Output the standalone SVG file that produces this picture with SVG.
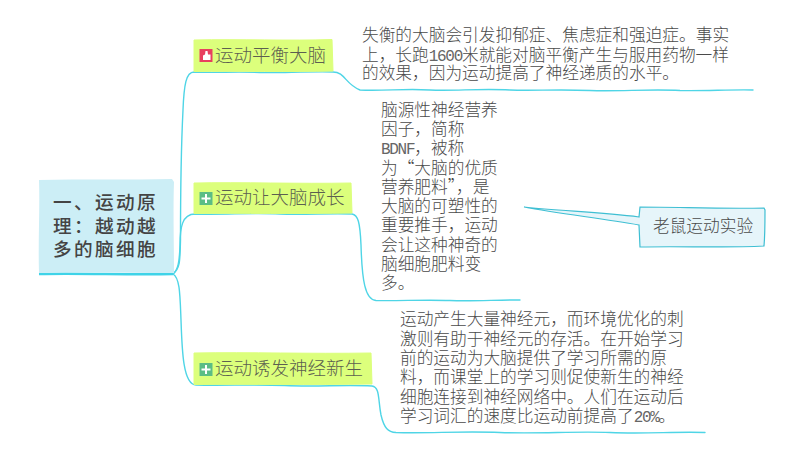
<svg xmlns="http://www.w3.org/2000/svg" width="800" height="453" viewBox="0 0 800 453">
<style>
text{font-family:"Noto Sans CJK SC","Noto Sans",sans-serif;fill:#4a4a4a}
.t{font-size:18.6px;font-weight:500;letter-spacing:2.4px;fill:#444}
.s{font-size:18.5px;font-weight:300;fill:#5c5f50}
.d{font-size:16.7px;font-weight:300}
.m{font-family:"Liberation Mono",monospace;font-size:16px;letter-spacing:-1.300px;fill:#666}
.c{fill:none;stroke:#4fd5e6;stroke-width:1.400;stroke-linecap:round}
.sub{fill:#dcff7c;stroke:#dcff7c;stroke-width:1}
.w{fill:#fff}
</style>
<rect width="800" height="453" fill="#fff"/>
<g id="connectors">
<path class="c" d="M173 274C180 268 180 262 180.500 240C180.500 190 181 150 183 110C184 85 186 72 194 72C215 73 235 71.500 260 72.500C280 73 305 71.500 333 72C345 72 345 84 360 90C385 91 405 88.500 430 90C455 91 480 88.500 510 90C535 91 555 89 590 90.500C620 91.500 650 89 680 90.500C705 91 730 89.500 753 90"/>
<path class="c" d="M173 274C178 270 179.500 262 180 245C180 228 182 214 195 214C225 215 250 212.500 280 214C305 215 330 213 352 214C358 215 360 222 361 245C362 280 365 300 376 300.500C400 301 425 299.500 450 300.500C475 301.500 500 299.500 520 300"/>
<path class="c" d="M173 274C180 278 180 295 181 320C182 350 183 385 196 385C225 386 250 384 285 385.500C315 387 345 384.500 372 386C380 387 378 400 381 415C384 428 388 432 396 432.500C430 433.500 460 431 500 432.500C540 434 575 431 610 432.500C645 434 675 431.500 705 432.500"/>
<path fill="none" stroke="#3fd3e8" stroke-width="2.500" d="M39 274C80 273 130 275 173 274"/>
</g>
<g id="topic">
<path fill="#cceef6" d="M39 180C80 179 130 180 172 179L174 182C173 210 174 245 174 273C130 273 80 272 39 273C38 240 40 210 39 180Z"/>
<text class="t" x="53" y="209">一、运动原</text>
<text class="t" x="53" y="233">理：越动越</text>
<text class="t" x="53" y="256">多的脑细胞</text>
</g>
<g id="sub1">
<path class="sub" d="M194 40C240 39 290 41 332 39.500L333 71C290 72 240 71 194 71.500Z"/>
<rect x="199.500" y="49" width="13" height="13" fill="#e8405f"/>
<path class="w" d="M203 55.500L205 54.500L205.500 51H207.500L208 54.500H210.500V60H203Z"/>
<text class="s" x="215" y="62">运动平衡大脑</text>
</g>
<g id="detail1">
<text class="d" x="362" y="41">失衡的大脑会引发抑郁症、焦虑症和强迫症。事实</text>
<text class="d" x="362" y="60.500">上，长跑<tspan class="m">1600</tspan>米就能对脑平衡产生与服用药物一样</text>
<text class="d" x="362" y="79">的效果，因为运动提高了神经递质的水平。</text>
</g>
<g id="sub2">
<path class="sub" d="M194 183C240 182 300 184 351 183L352 213C300 214 240 213 194 213.500Z"/>
<rect x="199.500" y="192" width="13" height="13" fill="#5bbd85"/>
<path class="w" d="M205 194H207V197.500H210.500V199.500H207V203H205V199.500H201.500V197.500H205Z"/>
<text class="s" x="215" y="204">运动让大脑成长</text>
</g>
<g id="detail2">
<text class="d" x="381" y="116">脑源性神经营养</text>
<text class="d" x="381" y="135">因子，简称</text>
<text class="d" x="381" y="154"><tspan class="m">BDNF</tspan>，被称</text>
<text class="d" x="381" y="174">为“大脑的优质</text>
<text class="d" x="381" y="193">营养肥料”，是</text>
<text class="d" x="381" y="212">大脑的可塑性的</text>
<text class="d" x="381" y="231">重要推手，运动</text>
<text class="d" x="381" y="251">会让这种神奇的</text>
<text class="d" x="381" y="270">脑细胞肥料变</text>
<text class="d" x="381" y="289">多。</text>
</g>
<g id="sub3">
<path class="sub" d="M194 353C250 352 310 354 371 353L372 384C310 385 250 384 194 384.500Z"/>
<rect x="199.500" y="363" width="13" height="13" fill="#5bbd85"/>
<path class="w" d="M205 365H207V368.500H210.500V370.500H207V374H205V370.500H201.500V368.500H205Z"/>
<text class="s" x="215" y="375">运动诱发神经新生</text>
</g>
<g id="detail3">
<text class="d" x="400" y="325">运动产生大量神经元，而环境优化的刺</text>
<text class="d" x="400" y="344.500">激则有助于神经元的存活。在开始学习</text>
<text class="d" x="400" y="364">前的运动为大脑提供了学习所需的原</text>
<text class="d" x="400" y="383">料，而课堂上的学习则促使新生的神经</text>
<text class="d" x="400" y="402.500">细胞连接到神经网络中。人们在运动后</text>
<text class="d" x="400" y="422">学习词汇的速度比运动前提高了<tspan class="m">20%</tspan>。</text>
</g>
<g id="callout">
<path fill="#e6f5fa" stroke="#3fbfd3" stroke-width="1.200" d="M524 207C560 211 600 212 639 217L640 207C680 207 720 209 764 208L765 210C765 222 765 235 764 246C725 248 680 246 640 247L639 225C600 218 560 214 524 207Z"/>
<text class="d" x="653" y="232">老鼠运动实验</text>
</g>
</svg>
